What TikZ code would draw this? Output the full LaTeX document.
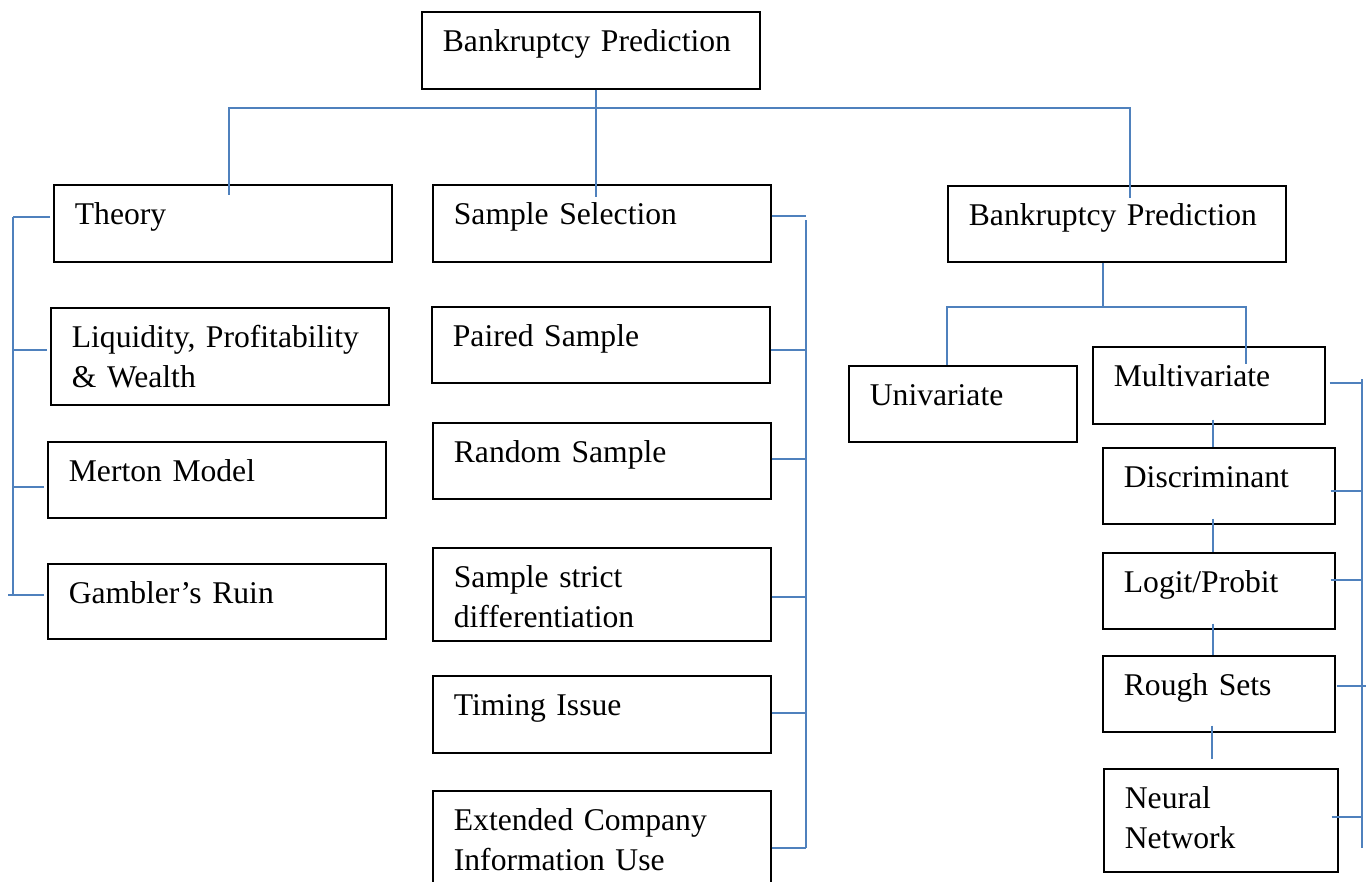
\documentclass[tikz,border=0pt]{standalone}
\usepackage{fontspec}
\setmainfont{Liberation Serif}
\usepackage{xcolor}
\usepackage{tikz}
\usetikzlibrary{calc}
\definecolor{boxline}{HTML}{000000}
\definecolor{linkblue}{HTML}{4F81BD}
\tikzset{
  treeBox/.style 2 args={draw=boxline, line width=1pt, anchor=north west,
    inner xsep=0.42cm, inner ysep=0pt, align=left, text height=0.8cm,
    font=\fontsize{18}{22.7}\selectfont, text width=#1, text depth=#2},
  wideBox/.style={treeBox={5.92cm}{#1}},
  narrowBox/.style={treeBox={3.8cm}{#1}},
  treeLink/.style={draw=linkblue, line width=1pt}
}

\begin{document}
\begin{tikzpicture}[x=0.02cm, y=-0.02cm]
  \useasboundingbox (0,0) rectangle (1370,882);

  % top level
  \node[wideBox=0.74cm] (root) at (421,11) {Bankruptcy Prediction};
  \node[wideBox=0.74cm] (theory) at (53,184) {Theory};
  \node[wideBox=0.74cm] (select) at (432,184) {Sample Selection};
  \node[wideBox=0.72cm] (predict) at (947,185) {Bankruptcy Prediction};

  % theory column
  \node[wideBox=1.14cm] (liquid) at (50,307) {Liquidity, Profitability\\ \& Wealth};
  \node[wideBox=0.72cm] (merton) at (47,441) {Merton Model};
  \node[wideBox=0.70cm] (gambler) at (47,563) {Gambler’s Ruin};

  % sample column
  \node[wideBox=0.72cm] (paired) at (431,306) {Paired Sample};
  \node[wideBox=0.72cm] (random) at (432,422) {Random Sample};
  \node[wideBox=1.06cm] (strict) at (432,547) {Sample strict\\ differentiation};
  \node[wideBox=0.74cm] (timing) at (432,675) {Timing Issue};
  \node[wideBox=1.48cm] (extended) at (432,790) {Extended Company\\ Information Use};

  % prediction column
  \node[treeBox={3.72cm}{0.72cm}] (univar) at (848,365) {Univariate};
  \node[narrowBox=0.74cm] (multivar) at (1092,346) {Multivariate};
  \node[narrowBox=0.72cm] (discrim) at (1102,447) {Discriminant};
  \node[narrowBox=0.72cm] (logit) at (1102,552) {Logit/Probit};
  \node[narrowBox=0.72cm] (rough) at (1102,655) {Rough Sets};
  \node[treeBox={3.84cm}{1.26cm}] (neural) at (1103,768) {Neural\\ Network};

  \coordinate (rootJ) at (596,108);
  \coordinate (predJ) at (1103,307);
  \coordinate (leftRail) at (13,0);
  \coordinate (midRail) at (806,0);
  \coordinate (rightRail) at (1362,0);

  % main bar
  \draw[treeLink] ($(theory.north)+(6,11)$) |- (rootJ) -| ($(predict.north)+(13,13)$);
  \draw[treeLink] (root.south -| rootJ) -- ($(rootJ)+(0,14)$);
  \draw[treeLink] (rootJ) -- ($(select.north -| rootJ)+(0,13)$);

  % left rail
  \foreach \n/\dy in {theory/-6, liquid/-6, merton/7, gambler/-6}
    \draw[treeLink] ($(\n.west)+(-3,\dy)$) -- ($(\n.west -| leftRail)+(0,\dy)$);
  \draw[treeLink] ($(theory.west -| leftRail)+(0,-6)$) -- ($(gambler.west -| leftRail)+(0,-6)$);
  \draw[treeLink] ($(gambler.west -| leftRail)+(0,-6)$) -- ++(-5,0);

  % middle rail
  \foreach \n/\dy in {select/-7, paired/5, random/-2, strict/3, timing/-1, extended/0}
    \draw[treeLink] ($(\n.east)+(0,\dy)$) -- ($(\n.east -| midRail)+(0,\dy)$);
  \draw[treeLink] ($(select.east -| midRail)+(0,-3)$) -- (extended.east -| midRail);

  % prediction split
  \draw[treeLink] (predict.south -| predJ) -- (predJ);
  \draw[treeLink] ($(univar.north)+(-16,0)$) |- ($(multivar.north)+(37,-39)$) -- ($(multivar.north)+(37,18)$);

  % multivariate chain
  \draw[treeLink] ($(multivar.south)+(4,-5)$) -- ($(discrim.north)+(-6,0)$);
  \foreach \a/\b in {discrim/logit, logit/rough}
    \draw[treeLink] ($(\a.south)+(-6,-6)$) -- ($(\b.north)+(-6,0)$);
  \draw[treeLink] ($(rough.south)+(-7,-7)$) -- ++(0,33);

  % right rail
  \foreach \n/\dy/\dx in {multivar/-2/4, discrim/5/-5, logit/-11/-5, rough/-8/1, neural/-3/-7}
    \draw[treeLink] ($(\n.east)+(\dx,\dy)$) -- ($(\n.east -| rightRail)+(0,\dy)$);
  \draw[treeLink] ($(rough.east -| rightRail)+(0,-8)$) -- ++(4,0);
  \draw[treeLink] ($(multivar.east -| rightRail)+(0,-6)$) -- ($(neural.east -| rightRail)+(0,28)$);
\end{tikzpicture}
\end{document}
